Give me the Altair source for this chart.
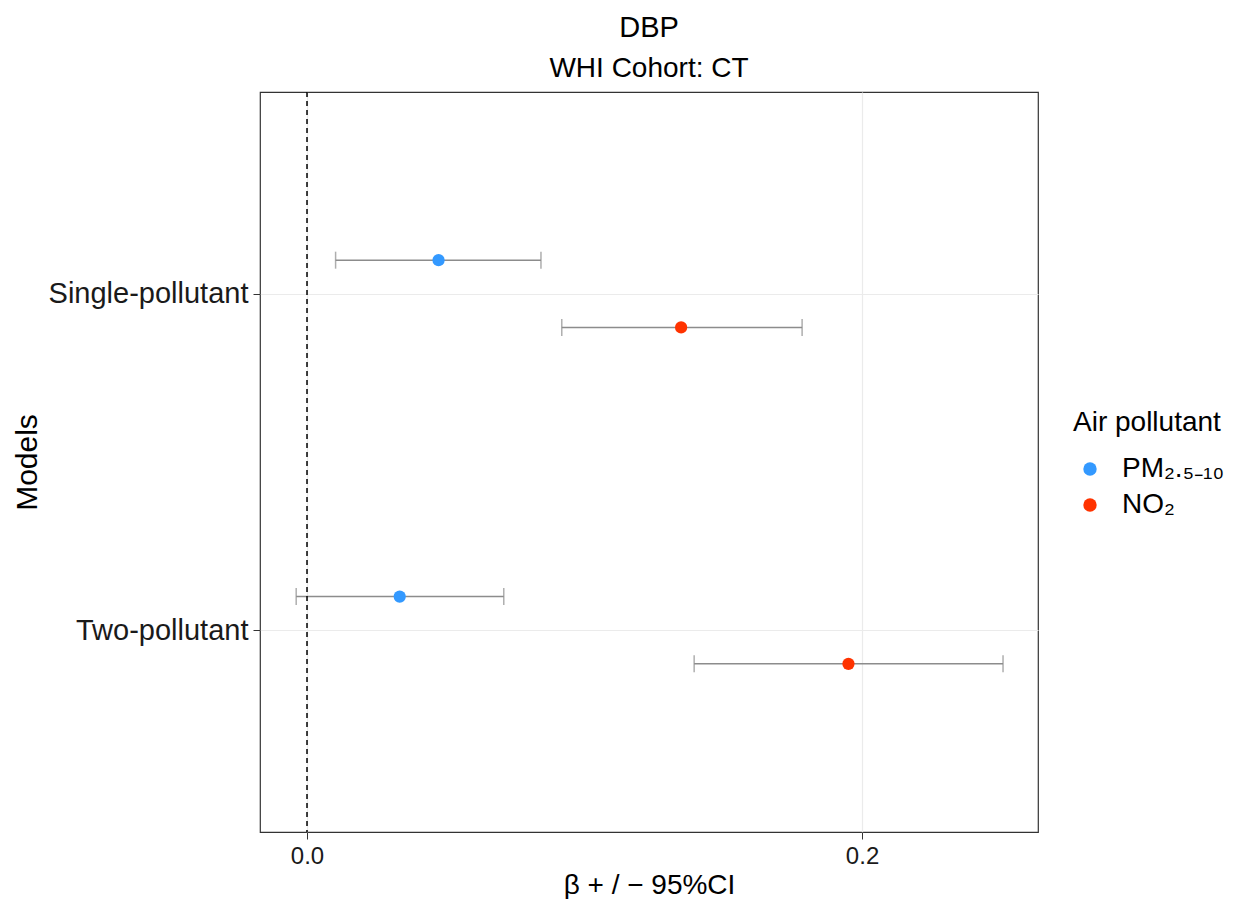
import altair as alt
import pandas as pd

# ---- data ----
model_labels = ["Single-pollutant", "Two-pollutant"]
models = ["Single-pollutant", "Single-pollutant", "Two-pollutant", "Two-pollutant"]
pollutant_names = ["PM₂.₅₋₁₀", "NO₂"]
pollutants = ["PM₂.₅₋₁₀", "NO₂", "PM₂.₅₋₁₀", "NO₂"]
beta = [0.0474, 0.1348, 0.0334, 0.1951]
lower = [0.0103, 0.0918, -0.0039, 0.1395]
upper = [0.0843, 0.1784, 0.0709, 0.2508]
x_ticks = [0.0, 0.2]
ref_line = [0.0]
colors = ["#3399FF", "#FF3300"]

FONT = "Liberation Sans"

df = pd.DataFrame({
    "model": models,
    "pollutant": pollutants,
    "beta": beta,
    "lower": lower,
    "upper": upper,
})
df["model_idx"] = [model_labels.index(m) + 1 for m in df["model"]]
df["pol_idx"] = [pollutant_names.index(p) for p in df["pollutant"]]

label_expr = " : ".join(
    [f"datum.value == {i + 1} ? '{lab}'" for i, lab in enumerate(model_labels)]
) + " : ''"

x_scale = alt.Scale(domain=[-0.01694, 0.2634], nice=False, zero=False)
y_scale = alt.Scale(domain=[0.4, 2.6], reverse=True, nice=False, zero=False)

x_axis = alt.Axis(
    values=x_ticks, format=".1f", title="β + / − 95%CI",
    grid=True, gridColor="#EBEBEB", gridWidth=1.2,
    domain=False, tickSize=7, tickColor="#333333", tickWidth=1,
    labelFontSize=24, labelColor="#1a1a1a", labelFont=FONT, labelPadding=5,
    titleFontSize=28, titleFont=FONT, titleFontWeight="normal", titleColor="black",
    titlePadding=3,
)
y_axis = alt.Axis(
    values=[1, 2], labelExpr=label_expr, title="Models",
    grid=True, gridColor="#EBEBEB", gridWidth=1.2,
    domain=False, tickSize=7, tickColor="#333333", tickWidth=1,
    labelFontSize=29, labelColor="#1a1a1a", labelFont=FONT, labelPadding=5,
    labelLimit=0,
    titleFontSize=30, titleFont=FONT, titleFontWeight="normal", titleColor="black",
    titlePadding=18,
)

base = alt.Chart(df).transform_calculate(
    ypos="datum.model_idx + (datum.pol_idx == 0 ? -0.1 : 0.1)"
)

bars = base.mark_rule(color="#8C8C8C", strokeWidth=1.5).encode(
    x=alt.X("lower:Q", scale=x_scale, axis=x_axis),
    x2="upper:Q",
    y=alt.Y("ypos:Q", scale=y_scale, axis=y_axis),
)

caps = base.transform_fold(["lower", "upper"], as_=["end", "val"]).mark_tick(
    orient="vertical", size=17, thickness=1.5, color="#8C8C8C"
).encode(
    x=alt.X("val:Q", scale=x_scale),
    y=alt.Y("ypos:Q", scale=y_scale),
)

ref = alt.Chart(pd.DataFrame({"ref": ref_line})).mark_rule(
    color="black", strokeDash=[5, 4], strokeWidth=1.5
).encode(x=alt.X("ref:Q", scale=x_scale))

points = base.mark_circle(size=150, opacity=1).encode(
    x=alt.X("beta:Q", scale=x_scale),
    y=alt.Y("ypos:Q", scale=y_scale),
    color=alt.Color(
        "pollutant:N",
        scale=alt.Scale(domain=pollutant_names, range=colors),
        sort=pollutant_names,
        legend=alt.Legend(
            title="Air pollutant", orient="none", legendX=813, legendY=317,
            titleFontSize=28, titleFont=FONT, titleFontWeight="normal", titleColor="black",
            labelFontSize=28, labelFont=FONT, labelColor="black", labelLimit=0,
            symbolType="circle", symbolSize=180, symbolStrokeWidth=0,
            symbolOffset=3, labelOffset=18, rowPadding=8, titlePadding=18,
        ),
    ),
)

chart = alt.layer(bars, caps, ref, points).properties(
    width=778,
    height=740,
    title=alt.Title(
        "DBP", subtitle="WHI Cohort: CT",
        font=FONT, fontSize=29, fontWeight="normal", color="black",
        subtitleFont=FONT, subtitleFontSize=28, subtitleColor="black",
        anchor="middle", offset=8, subtitlePadding=12,
    ),
    padding={"left": 252, "top": 84, "right": 188, "bottom": 67},
    autosize=alt.AutoSizeParams(type="none"),
).configure(
    background="white"
).configure_view(
    stroke="#333333", strokeWidth=1.2
)

chart.save("out.html", embed_options={"renderer": "svg", "actions": False})
